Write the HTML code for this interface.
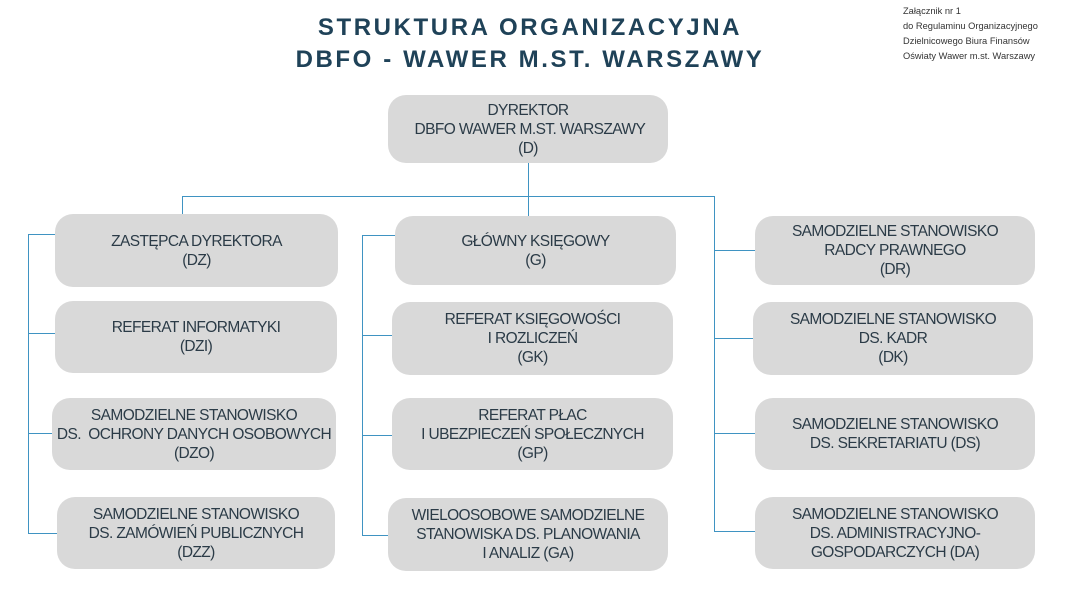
<!DOCTYPE html>
<html><head><meta charset="utf-8"><style>
body{margin:0;width:1075px;height:602px;background:#fff;position:relative;overflow:hidden;font-family:"Liberation Sans",sans-serif;color:#2b3b47}
.t{position:absolute;left:230px;width:600px;text-align:center;font-family:"Liberation Sans",sans-serif;font-weight:bold;font-size:24px;letter-spacing:2.6px;color:#1f4258}
.n{position:absolute;font-family:"Liberation Sans",sans-serif;font-size:9.3px;line-height:15px;color:#333;left:903px;top:4px}
.b{position:absolute;background:#d9d9d9;border-radius:18px;display:flex;align-items:center;justify-content:center;text-align:center;font-size:15.5px;letter-spacing:-0.6px;line-height:19px;white-space:pre}
.l{position:absolute;background:#3f93c2}
</style></head><body>
<div class="t" style="top:14px">STRUKTURA ORGANIZACYJNA</div>
<div class="t" style="top:46px">DBFO - WAWER M.ST. WARSZAWY</div>
<div class="n">Załącznik nr 1<br>do Regulaminu Organizacyjnego<br>Dzielnicowego Biura Finansów<br>Oświaty Wawer m.st. Warszawy</div>

<div class="l" style="left:528px;top:163px;width:1px;height:53px"></div>
<div class="l" style="left:182px;top:196px;width:533px;height:1px"></div>
<div class="l" style="left:182px;top:196px;width:1px;height:18px"></div>
<div class="l" style="left:714px;top:196px;width:1px;height:335px"></div>
<div class="l" style="left:714px;top:250px;width:41px;height:1px"></div>
<div class="l" style="left:714px;top:338px;width:39px;height:1px"></div>
<div class="l" style="left:714px;top:433px;width:41px;height:1px"></div>
<div class="l" style="left:714px;top:531px;width:41px;height:1px"></div>
<div class="l" style="left:28px;top:234px;width:1px;height:300px"></div>
<div class="l" style="left:28px;top:234px;width:27px;height:1px"></div>
<div class="l" style="left:28px;top:333px;width:27px;height:1px"></div>
<div class="l" style="left:28px;top:433px;width:24px;height:1px"></div>
<div class="l" style="left:28px;top:533px;width:29px;height:1px"></div>
<div class="l" style="left:362px;top:235px;width:1px;height:301px"></div>
<div class="l" style="left:362px;top:235px;width:33px;height:1px"></div>
<div class="l" style="left:362px;top:335px;width:30px;height:1px"></div>
<div class="l" style="left:362px;top:435px;width:30px;height:1px"></div>
<div class="l" style="left:362px;top:535px;width:26px;height:1px"></div>

<div class="b" style="left:388px;top:95px;width:280px;height:68px">DYREKTOR
 DBFO WAWER M.ST. WARSZAWY
(D)</div>

<div class="b" style="left:55px;top:214px;width:283px;height:73px">ZASTĘPCA DYREKTORA
(DZ)</div>
<div class="b" style="left:55px;top:301px;width:282px;height:72px">REFERAT INFORMATYKI
(DZI)</div>
<div class="b" style="left:52px;top:398px;width:284px;height:72px">SAMODZIELNE STANOWISKO
DS.  OCHRONY DANYCH OSOBOWYCH
(DZO)</div>
<div class="b" style="left:57px;top:497px;width:278px;height:72px">SAMODZIELNE STANOWISKO
DS. ZAMÓWIEŃ PUBLICZNYCH
(DZZ)</div>

<div class="b" style="left:395px;top:216px;width:281px;height:69px">GŁÓWNY KSIĘGOWY
(G)</div>
<div class="b" style="left:392px;top:302px;width:281px;height:73px">REFERAT KSIĘGOWOŚCI
I ROZLICZEŃ
(GK)</div>
<div class="b" style="left:392px;top:398px;width:281px;height:72px">REFERAT PŁAC
I UBEZPIECZEŃ SPOŁECZNYCH
(GP)</div>
<div class="b" style="left:388px;top:498px;width:280px;height:73px">WIELOOSOBOWE SAMODZIELNE
STANOWISKA DS. PLANOWANIA
I ANALIZ (GA)</div>

<div class="b" style="left:755px;top:216px;width:280px;height:69px">SAMODZIELNE STANOWISKO
RADCY PRAWNEGO
(DR)</div>
<div class="b" style="left:753px;top:302px;width:280px;height:73px">SAMODZIELNE STANOWISKO
DS. KADR
(DK)</div>
<div class="b" style="left:755px;top:398px;width:280px;height:72px">SAMODZIELNE STANOWISKO
DS. SEKRETARIATU (DS)</div>
<div class="b" style="left:755px;top:497px;width:280px;height:72px">SAMODZIELNE STANOWISKO
DS. ADMINISTRACYJNO-
GOSPODARCZYCH (DA)</div>
</body></html>
